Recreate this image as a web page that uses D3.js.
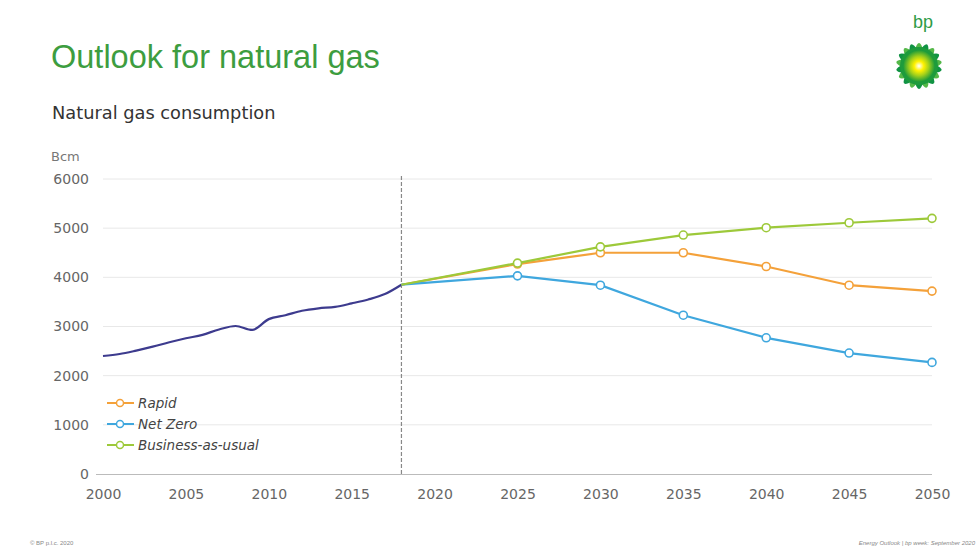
<!DOCTYPE html>
<html>
<head>
<meta charset="utf-8">
<script src="https://cdn.jsdelivr.net/npm/d3@7"></script>
<style>
  body { margin: 0; background: #fff; }
  svg { font-family: "Liberation Sans", Arial, sans-serif; display: block; }
</style>
</head>
<body>
<svg id="chart" width="979" height="549"></svg>
<script>
// data
const histYears = [2000, 2001, 2002, 2003, 2004, 2005, 2006, 2007, 2008, 2009,
                   2010, 2011, 2012, 2013, 2014, 2015, 2016, 2017, 2018];
const histValues = [2400, 2440, 2510, 2590, 2680, 2760, 2830, 2940, 3010, 2930,
                    3150, 3230, 3320, 3370, 3400, 3470, 3550, 3660, 3850];

const projYears = [2018, 2025, 2030, 2035, 2040, 2045, 2050];
const rapid = [3850, 4270, 4500, 4500, 4220, 3840, 3720];
const netZero = [3850, 4030, 3840, 3230, 2770, 2460, 2270];
const bau = [3850, 4290, 4620, 4860, 5010, 5110, 5200];

const seriesNames = ["Rapid", "Net Zero", "Business-as-usual"];
const seriesColors = ["#f4a13a", "#3fa7de", "#9dc93a"];

const yTicks = [0, 1000, 2000, 3000, 4000, 5000, 6000];
const xTicks = [2000, 2005, 2010, 2015, 2020, 2025, 2030, 2035, 2040, 2045, 2050];

const tickFont = "DejaVu Sans, Verdana, sans-serif";

const svg = d3.select("#chart");

// titles
svg.append("text")
  .attr("x", 51).attr("y", 68)
  .attr("fill", "#3d9d3f")
  .style("font-size", "32.5px")
  .text("Outlook for natural gas");

svg.append("text")
  .attr("x", 52).attr("y", 119)
  .attr("fill", "#333")
  .style("font-size", "17.8px")
  .style("font-family", tickFont)
  .text("Natural gas consumption");

svg.append("text")
  .attr("x", 51).attr("y", 161)
  .attr("fill", "#777")
  .style("font-size", "13px")
  .style("font-family", tickFont)
  .text("Bcm");

// scales
const x = d3.scaleLinear().domain([2000, 2050]).range([103, 932]);
const y = d3.scaleLinear().domain([0, 6000]).range([474, 179]);

// grid
svg.append("g")
  .selectAll("line")
  .data(yTicks.slice(1))
  .enter()
  .append("line")
  .attr("x1", 103).attr("x2", 932)
  .attr("y1", d => y(d)).attr("y2", d => y(d))
  .attr("stroke", "#e8e8e8")
  .attr("stroke-width", 1);

// y axis labels
const yAxis = svg.append("g")
  .attr("transform", "translate(89,0)")
  .call(d3.axisLeft(y).tickValues(yTicks).tickSize(0).tickPadding(0).tickFormat(d3.format("d")));
yAxis.select(".domain").remove();
yAxis.selectAll("text")
  .attr("fill", "#666")
  .style("font-size", "14px")
  .style("font-family", tickFont);

// x axis
const xAxis = svg.append("g")
  .attr("transform", "translate(0,474)")
  .call(d3.axisBottom(x).tickValues(xTicks).tickSize(0).tickPadding(15).tickFormat(d3.format("d")));
xAxis.select(".domain").attr("stroke", "#bbb").attr("d", "M96,0.5H932");
xAxis.selectAll("text")
  .attr("fill", "#666")
  .style("font-size", "14px")
  .style("font-family", tickFont);

// dashed line at 2018
svg.append("line")
  .attr("x1", x(2018)).attr("x2", x(2018))
  .attr("y1", 176).attr("y2", 476)
  .attr("stroke", "#888")
  .attr("stroke-width", 1.2)
  .attr("stroke-dasharray", "4,2");

// historical line
const histLine = d3.line()
  .x((d, i) => x(histYears[i]))
  .y(d => y(d))
  .curve(d3.curveMonotoneX);

svg.append("path")
  .attr("d", histLine(histValues))
  .attr("fill", "none")
  .attr("stroke", "#3d3b8e")
  .attr("stroke-width", 2.2);

// projections
const projLine = d3.line()
  .x((d, i) => x(projYears[i]))
  .y(d => y(d));

const projections = [rapid, netZero, bau];
projections.forEach(function(vals, k){
  svg.append("path")
    .attr("d", projLine(vals))
    .attr("fill", "none")
    .attr("stroke", seriesColors[k])
    .attr("stroke-width", 2.2);

  svg.append("g")
    .selectAll("circle")
    .data(vals.slice(1))
    .enter()
    .append("circle")
    .attr("cx", (d, i) => x(projYears[i + 1]))
    .attr("cy", d => y(d))
    .attr("r", 4)
    .attr("fill", "#fff")
    .attr("stroke", seriesColors[k])
    .attr("stroke-width", 1.6);
});

// legend
const legend = svg.append("g");
seriesNames.forEach(function(name, i){
  const ly = 403 + i * 21;
  legend.append("line")
    .attr("x1", 107).attr("x2", 134)
    .attr("y1", ly).attr("y2", ly)
    .attr("stroke", seriesColors[i])
    .attr("stroke-width", 2);
  legend.append("circle")
    .attr("cx", 120).attr("cy", ly).attr("r", 3.5)
    .attr("fill", "#fff")
    .attr("stroke", seriesColors[i])
    .attr("stroke-width", 1.5);
  legend.append("text")
    .attr("x", 138).attr("y", ly + 4.5)
    .attr("fill", "#444")
    .style("font-size", "13.5px")
    .style("font-family", tickFont)
    .style("font-style", "italic")
    .text(name);
});

// bp logo
const defs = svg.append("defs");
const grad = defs.append("radialGradient").attr("id", "helios");
grad.append("stop").attr("offset", "0%").attr("stop-color", "#ffffff");
grad.append("stop").attr("offset", "30%").attr("stop-color", "#fff200");
grad.append("stop").attr("offset", "60%").attr("stop-color", "#a6d11a");
grad.append("stop").attr("offset", "100%").attr("stop-color", "#1a9a3a");

const logo = svg.append("g").attr("transform", "translate(919,66)");
const petals = d3.range(18);
logo.selectAll("path.petal")
  .data(petals)
  .enter()
  .append("path")
  .attr("class", "petal")
  .attr("d", "M-4.5,-15 Q0,-31 4.5,-15 Z")
  .attr("fill", (d, i) => i % 2 ? "#109343" : "#54b848")
  .attr("transform", d => "rotate(" + (d * 20) + ")");
logo.append("circle").attr("r", 19).attr("fill", "#1e9b3c");
logo.append("circle").attr("r", 16).attr("fill", "url(#helios)");

svg.append("text")
  .attr("x", 913).attr("y", 28)
  .attr("fill", "#2e9b47")
  .style("font-size", "18px")
  .text("bp");

// footer
svg.append("text")
  .attr("x", 30).attr("y", 545)
  .attr("fill", "#888")
  .style("font-size", "6px")
  .text("© BP p.l.c. 2020");
svg.append("text")
  .attr("x", 975).attr("y", 545)
  .attr("text-anchor", "end")
  .attr("fill", "#888")
  .style("font-size", "6px")
  .style("font-style", "italic")
  .text("Energy Outlook  |  bp week: September 2020");
</script>
</body>
</html>
